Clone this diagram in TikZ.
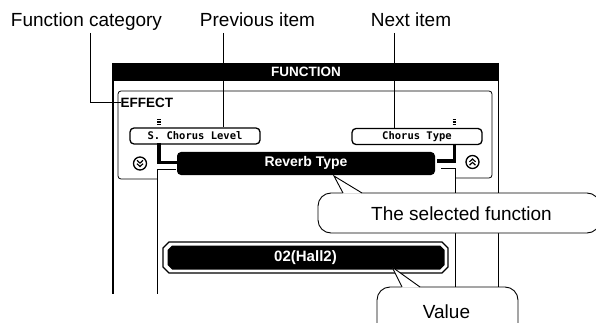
\documentclass[tikz,border=0pt]{standalone}
\usepackage{fontspec}
\setmainfont{Liberation Sans}
\newfontfamily\lcdfont{DejaVu Sans Mono}
\begin{document}
\begin{tikzpicture}[x=1pt,y=-1pt,
  lbl/.style={font=\fontsize{19}{22}\selectfont, anchor=base, inner sep=0pt},
  lead/.style={line width=0.8pt},
  framel/.style={line width=1.1pt},
  lcdbox/.style={draw, line width=1.3pt, rounded corners=4pt, fill=white, minimum width=130pt, minimum height=16pt, inner sep=0pt, font=\lcdfont\bfseries\fontsize{10.5}{12}\selectfont},
  wbold/.style={text=white, font=\bfseries\fontsize{14}{16}\selectfont, inner sep=0pt},
  brk/.style={line width=3.5pt},
  callout/.style={draw, line width=0.9pt, fill=white, rounded corners=13pt},
  icon/.style={circle, draw, line width=1.3pt, minimum size=13pt, inner sep=0pt},
  chev/.style={line width=1.2pt},
  scrollmark/.style={line width=1.1pt}
]
\useasboundingbox (0,0) rectangle (596,323);
\clip (0,0) rectangle (596,323);

% outer LCD frame
\fill[black] (113,63) rectangle (499,81);
\node[wbold, font=\bfseries\fontsize{13.5}{16}\selectfont, anchor=base] (fn) at (306,77) {FUNCTION};
\draw[framel] (113,63) -- (113,294);
\draw[framel] (498.5,63) -- (498.5,294);

% inner panel
\draw[lead, rounded corners=3pt] (157,179) -- (118,179) -- (118,91) -- (492,91) -- (492,178) -- (455,178);
% lower bracket lines
\draw[lead] (176,169) -- (157,169) -- (157,294);
\draw[lead] (441,168) -- (455,168) -- (455,294);

% EFFECT
\node[anchor=base west, inner sep=0pt, font=\bfseries\fontsize{13.5}{16}\selectfont] (effect) at (120.5,107.5) {EFFECT};

% previous / next boxes
\node[lcdbox] (prev) at (195,136) {S. Chorus Level};
\node[lcdbox] (next) at (417,136.5) {Chorus Type};

% scroll marks
\foreach \yy in {119.5,122,124.5} {
  \draw[scrollmark] (157,\yy) -- (160.5,\yy);
  \draw[scrollmark] (452.5,\yy) -- (456,\yy);
}

% thick brackets
\draw[brk] (159,143.5) -- (159,162.5) -- (178,162.5);
\draw[brk] (454.5,144) -- (454.5,161) -- (437,161);

% icons
\node[icon] (down) at (140,163.5) {};
\draw[chev] ([shift={(-3,-3.2)}]down.center) -- ([shift={(0,-0.4)}]down.center) -- ([shift={(3,-3.2)}]down.center);
\draw[chev] ([shift={(-3,0.2)}]down.center) -- ([shift={(0,3)}]down.center) -- ([shift={(3,0.2)}]down.center);
\node[icon] (up) at (472.5,162) {};
\draw[chev] ([shift={(-3,3.2)}]up.center) -- ([shift={(0,0.4)}]up.center) -- ([shift={(3,3.2)}]up.center);
\draw[chev] ([shift={(-3,-0.2)}]up.center) -- ([shift={(0,-3)}]up.center) -- ([shift={(3,-0.2)}]up.center);

% selected bar
\node[fill=black, rounded corners=4pt, minimum width=258pt, minimum height=23pt, inner sep=0pt] (sel) at (306,163.5) {};
\node[wbold] (seltxt) at (306,163) {Reverb Type};

% value bar
\draw[line width=1.3pt] (169,242) -- (442,242) -- (448,248) -- (448,267) -- (442,273) -- (169,273) -- (163,267) -- (163,248) -- cycle;
\fill[black] (172,245.5) -- (440,245.5) -- (444.5,250) -- (444.5,265) -- (440,269.5) -- (172,269.5) -- (167.5,265) -- (167.5,250) -- cycle;
\node[wbold, font=\bfseries\fontsize{15}{17}\selectfont] (value) at (305.5,257.5) {02(Hall2)};

% top labels and leaders
\node[lbl] (lcat) at (86.5,26.5) {Function category};
\node[lbl] (lprev) at (257.5,26.5) {Previous item};
\node[lbl] (lnext) at (411,26.5) {Next item};
\coordinate (catL) at (90,33);
\coordinate (prevL) at (223,33);
\coordinate (nextL) at (394,33);
\draw[lead] (catL) |- (effect.west);
\draw[lead] (prevL) -- (prevL |- prev.north);
\draw[lead] (nextL) -- (nextL |- next.north);

% callout: selected function
\draw[callout] (318,193) rectangle (600,233);
\coordinate (seltip) at (334,176);
\fill[white] (seltip) -- (342.8,193.7) -- (362.4,193.7) -- cycle;
\draw[line width=0.9pt] (343,193) -- (seltip) -- (362,193);
\node[lbl] (selcap) at (461.5,220.5) {The selected function};

% callout: value
\draw[callout] (377,287) rectangle (518,345);
\coordinate (valtip) at (392,267);
\fill[white] (valtip) -- (401.8,287.7) -- (420.3,287.7) -- cycle;
\draw[line width=0.9pt] (402,287) -- (valtip) -- (420,287);
\node[lbl] (valcap) at (446.5,318) {Value};
\end{tikzpicture}
\end{document}
